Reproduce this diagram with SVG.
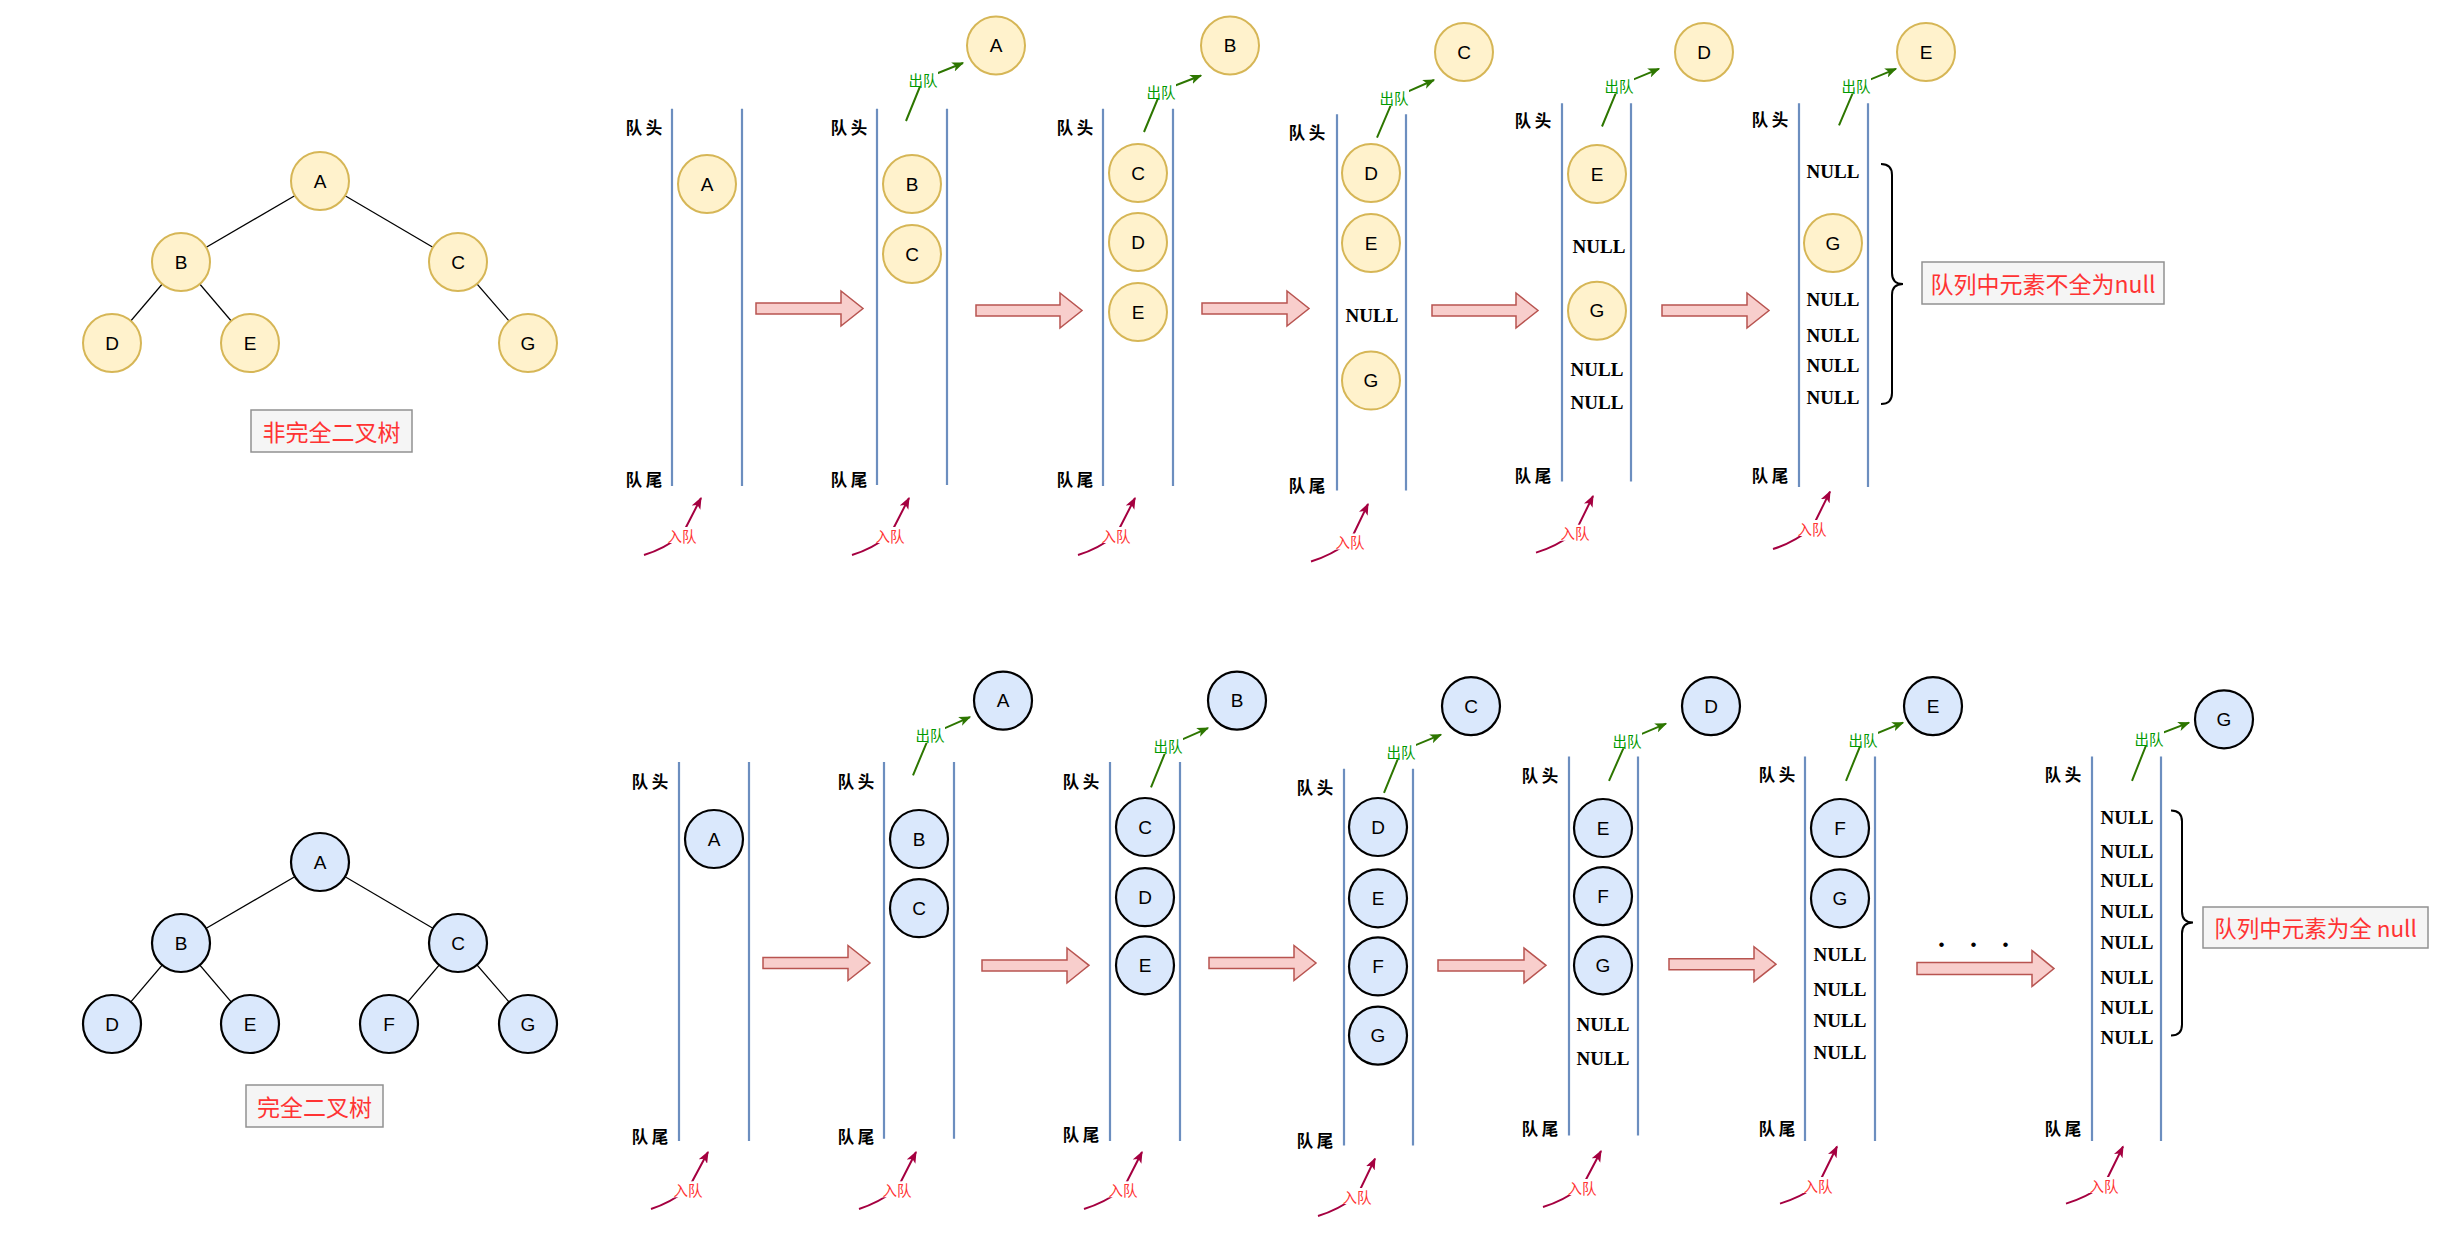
<svg xmlns="http://www.w3.org/2000/svg" width="2450" height="1234" viewBox="0 0 2450 1234">
<style>
.q{stroke:#6c8ebf;stroke-width:2.2;fill:none}
.ny{fill:#fff2cc;stroke:#d6b656;stroke-width:2}
.nb{fill:#dae8fc;stroke:#000;stroke-width:2.2}
.lt{font-family:"Liberation Sans",Arial,sans-serif;font-size:19px;text-anchor:middle;dominant-baseline:central;fill:#000}
.nl{font-family:"Liberation Serif","Times New Roman",serif;font-weight:bold;font-size:19px;text-anchor:middle;dominant-baseline:central;fill:#000}
.hd{font-family:"Noto Sans CJK SC",sans-serif;font-size:16.5px;font-weight:bold;text-anchor:middle;dominant-baseline:central;fill:#000}
.out{stroke:#2d7600;stroke-width:2;fill:none;marker-end:url(#mg)}
.in{stroke:#a50040;stroke-width:2;fill:none;marker-end:url(#mr)}
.lb{fill:#fff}
.ol{font-family:"Noto Sans CJK SC",sans-serif;font-size:14.5px;fill:#009900;text-anchor:middle;dominant-baseline:central}
.il{font-family:"Noto Sans CJK SC",sans-serif;font-size:14.5px;fill:#ff3333;text-anchor:middle;dominant-baseline:central}
.big{fill:#f8cecc;stroke:#b85450;stroke-width:1.5}
.box{fill:#f5f5f5;stroke:#919191;stroke-width:1.5}
.bt{font-family:"Noto Sans CJK SC",sans-serif;fill:#ff3333;text-anchor:middle;dominant-baseline:central}
.te{stroke:#000;stroke-width:1.2}
.br{stroke:#000;stroke-width:2;fill:none}
</style>
<defs>
<marker id="mg" viewBox="0 0 10 8" refX="9" refY="4" markerWidth="12" markerHeight="10" markerUnits="userSpaceOnUse" orient="auto"><path d="M0,0 L10,4 L0,8 L2.5,4 Z" fill="#2d7600"/></marker>
<marker id="mr" viewBox="0 0 10 8" refX="9" refY="4" markerWidth="12" markerHeight="10" markerUnits="userSpaceOnUse" orient="auto"><path d="M0,0 L10,4 L0,8 L2.5,4 Z" fill="#a50040"/></marker>
</defs>
<rect width="2450" height="1234" fill="#fff"/>

<!-- ============ connectors ============ -->
<g id="connectors">
  <!-- tree edges top -->
  <line class="te" x1="320" y1="181" x2="181" y2="262"/>
  <line class="te" x1="320" y1="181" x2="458" y2="262"/>
  <line class="te" x1="181" y1="262" x2="112" y2="343"/>
  <line class="te" x1="181" y1="262" x2="250" y2="343"/>
  <line class="te" x1="458" y1="262" x2="528" y2="343"/>
  <!-- tree edges bottom -->
  <line class="te" x1="320" y1="862" x2="181" y2="943"/>
  <line class="te" x1="320" y1="862" x2="458" y2="943"/>
  <line class="te" x1="181" y1="943" x2="112" y2="1024"/>
  <line class="te" x1="181" y1="943" x2="250" y2="1024"/>
  <line class="te" x1="458" y1="943" x2="389" y2="1024"/>
  <line class="te" x1="458" y1="943" x2="528" y2="1024"/>

  <!-- big transition arrows top -->
  <path class="big" d="M756,303 L841,303 L841,291 L863,308.5 L841,326 L841,314 L756,314 Z"/>
  <path class="big" d="M976,305 L1060,305 L1060,293 L1082,310.5 L1060,328 L1060,316 L976,316 Z"/>
  <path class="big" d="M1202,303 L1287,303 L1287,291 L1309,308.5 L1287,326 L1287,314 L1202,314 Z"/>
  <path class="big" d="M1432,305 L1516,305 L1516,293 L1538,310.5 L1516,328 L1516,316 L1432,316 Z"/>
  <path class="big" d="M1662,305 L1747,305 L1747,293 L1769,310.5 L1747,328 L1747,316 L1662,316 Z"/>
  <!-- big transition arrows bottom -->
  <path class="big" d="M763,957.5 L848,957.5 L848,945.5 L870,963 L848,980.5 L848,968.5 L763,968.5 Z"/>
  <path class="big" d="M982,960 L1067,960 L1067,948 L1089,965.3 L1067,983 L1067,971 L982,971 Z"/>
  <path class="big" d="M1209,957.5 L1294,957.5 L1294,945.5 L1316,963 L1294,980.5 L1294,968.5 L1209,968.5 Z"/>
  <path class="big" d="M1438,960 L1524,960 L1524,948 L1546,965.3 L1524,983 L1524,971 L1438,971 Z"/>
  <path class="big" d="M1669,958.7 L1754,958.7 L1754,946.7 L1776,964.2 L1754,981.7 L1754,969.7 L1669,969.7 Z"/>
  <path class="big" d="M1917,962.5 L2032,962.5 L2032,950.5 L2054,968.6 L2032,986.5 L2032,974.5 L1917,974.5 Z"/>

  <!-- dequeue arrows top -->
  <path class="out" d="M906,121 L923,79 L963,63"/>
  <path class="out" d="M1144,132 L1161,91 L1201,75.5"/>
  <path class="out" d="M1377,137.6 L1394,97.7 L1434,80"/>
  <path class="out" d="M1602,126.5 L1619,85.4 L1659,68.8"/>
  <path class="out" d="M1839,125.4 L1856,85.4 L1896,68.8"/>
  <!-- dequeue arrows bottom -->
  <path class="out" d="M913,775.3 L930,734.7 L970,717.1"/>
  <path class="out" d="M1151,787.4 L1168,745.7 L1208,728.1"/>
  <path class="out" d="M1384,792.9 L1401,751.2 L1441,734.7"/>
  <path class="out" d="M1609,780.8 L1627,740.2 L1666,723.7"/>
  <path class="out" d="M1846,780.8 L1863,739 L1903,722.6"/>
  <path class="out" d="M2132,780.8 L2149,738 L2189,722.6"/>

  <!-- enqueue arrows top -->
  <path class="in" d="M644,555 Q664,549 682,535 L701,498"/>
  <path class="in" d="M852,555 Q872,549 890,535 L909,498"/>
  <path class="in" d="M1078,555 Q1098,549 1116,535 L1135,498"/>
  <path class="in" d="M1311,561.5 Q1331,555.5 1350,541.5 L1368,504"/>
  <path class="in" d="M1536,552.6 Q1556,546.6 1575,532.7 L1593,496"/>
  <path class="in" d="M1773,549 Q1793,543 1812,528 L1830,491.6"/>
  <!-- enqueue arrows bottom -->
  <path class="in" d="M651,1209 Q670,1203 688,1189.3 L708,1152"/>
  <path class="in" d="M859,1209 Q878,1203 897,1189.3 L916,1152"/>
  <path class="in" d="M1084,1209 Q1104,1203 1123,1189.3 L1142,1152"/>
  <path class="in" d="M1318,1216 Q1338,1210 1357,1196 L1375,1158.6"/>
  <path class="in" d="M1543,1207 Q1563,1201 1582,1187 L1601,1151"/>
  <path class="in" d="M1780,1203.6 Q1800,1197.6 1818,1185 L1837,1146.5"/>
  <path class="in" d="M2066,1203.6 Q2086,1197.6 2104,1185 L2123,1146.5"/>

  <!-- braces -->
  <path class="br" d="M1881,164 Q1892,164 1892,175 L1892,273 Q1892,284 1903,284 Q1892,284 1892,295 L1892,393 Q1892,404 1881,404"/>
  <path class="br" d="M2171,810.5 Q2182,810.5 2182,821.5 L2182,911.5 Q2182,922.5 2193,922.5 Q2182,922.5 2182,933.5 L2182,1024.6 Q2182,1035.6 2171,1035.6"/>
</g>

<!-- connector labels -->
<g id="connector-labels">
  <rect class="lb" x="908" y="71" width="30" height="16"/><text class="ol" x="923" y="79">出队</text>
  <rect class="lb" x="1146" y="83" width="30" height="16"/><text class="ol" x="1161" y="91">出队</text>
  <rect class="lb" x="1379" y="89.7" width="30" height="16"/><text class="ol" x="1394" y="97.7">出队</text>
  <rect class="lb" x="1604" y="77.4" width="30" height="16"/><text class="ol" x="1619" y="85.4">出队</text>
  <rect class="lb" x="1841" y="77.4" width="30" height="16"/><text class="ol" x="1856" y="85.4">出队</text>
  <rect class="lb" x="915" y="726.7" width="30" height="16"/><text class="ol" x="930" y="734.7">出队</text>
  <rect class="lb" x="1153" y="737.7" width="30" height="16"/><text class="ol" x="1168" y="745.7">出队</text>
  <rect class="lb" x="1386" y="743.2" width="30" height="16"/><text class="ol" x="1401" y="751.2">出队</text>
  <rect class="lb" x="1612" y="732.2" width="30" height="16"/><text class="ol" x="1627" y="740.2">出队</text>
  <rect class="lb" x="1848" y="731" width="30" height="16"/><text class="ol" x="1863" y="739">出队</text>
  <rect class="lb" x="2134" y="730" width="30" height="16"/><text class="ol" x="2149" y="738">出队</text>

  <rect class="lb" x="667" y="527" width="30" height="16"/><text class="il" x="682" y="535">入队</text>
  <rect class="lb" x="875" y="527" width="30" height="16"/><text class="il" x="890" y="535">入队</text>
  <rect class="lb" x="1101" y="527" width="30" height="16"/><text class="il" x="1116" y="535">入队</text>
  <rect class="lb" x="1335" y="533.5" width="30" height="16"/><text class="il" x="1350" y="541.5">入队</text>
  <rect class="lb" x="1560" y="524.7" width="30" height="16"/><text class="il" x="1575" y="532.7">入队</text>
  <rect class="lb" x="1797" y="520" width="30" height="16"/><text class="il" x="1812" y="528">入队</text>
  <rect class="lb" x="673" y="1181.3" width="30" height="16"/><text class="il" x="688" y="1189.3">入队</text>
  <rect class="lb" x="882" y="1181.3" width="30" height="16"/><text class="il" x="897" y="1189.3">入队</text>
  <rect class="lb" x="1108" y="1181.3" width="30" height="16"/><text class="il" x="1123" y="1189.3">入队</text>
  <rect class="lb" x="1342" y="1188" width="30" height="16"/><text class="il" x="1357" y="1196">入队</text>
  <rect class="lb" x="1567" y="1179" width="30" height="16"/><text class="il" x="1582" y="1187">入队</text>
  <rect class="lb" x="1803" y="1177" width="30" height="16"/><text class="il" x="1818" y="1185">入队</text>
  <rect class="lb" x="2089" y="1177" width="30" height="16"/><text class="il" x="2104" y="1185">入队</text>
</g>

<!-- ============ top tree ============ -->
<g id="t1-A"><circle class="ny" cx="320" cy="181" r="29"/><text class="lt" x="320" y="181">A</text></g>
<g id="t1-B"><circle class="ny" cx="181" cy="262" r="29"/><text class="lt" x="181" y="262">B</text></g>
<g id="t1-C"><circle class="ny" cx="458" cy="262" r="29"/><text class="lt" x="458" y="262">C</text></g>
<g id="t1-D"><circle class="ny" cx="112" cy="343" r="29"/><text class="lt" x="112" y="343">D</text></g>
<g id="t1-E"><circle class="ny" cx="250" cy="343" r="29"/><text class="lt" x="250" y="343">E</text></g>
<g id="t1-G"><circle class="ny" cx="528" cy="343" r="29"/><text class="lt" x="528" y="343">G</text></g>
<g id="t1-label"><rect class="box" x="251" y="410" width="161" height="42"/><text class="bt" x="331.5" y="431" font-size="23">非完全二叉树</text></g>

<!-- ============ bottom tree ============ -->
<g id="t2-A"><circle class="nb" cx="320" cy="862" r="29"/><text class="lt" x="320" y="862">A</text></g>
<g id="t2-B"><circle class="nb" cx="181" cy="943" r="29"/><text class="lt" x="181" y="943">B</text></g>
<g id="t2-C"><circle class="nb" cx="458" cy="943" r="29"/><text class="lt" x="458" y="943">C</text></g>
<g id="t2-D"><circle class="nb" cx="112" cy="1024" r="29"/><text class="lt" x="112" y="1024">D</text></g>
<g id="t2-E"><circle class="nb" cx="250" cy="1024" r="29"/><text class="lt" x="250" y="1024">E</text></g>
<g id="t2-F"><circle class="nb" cx="389" cy="1024" r="29"/><text class="lt" x="389" y="1024">F</text></g>
<g id="t2-G"><circle class="nb" cx="528" cy="1024" r="29"/><text class="lt" x="528" y="1024">G</text></g>
<g id="t2-label"><rect class="box" x="246" y="1085" width="137" height="42"/><text class="bt" x="314.5" y="1106" font-size="23">完全二叉树</text></g>

<!-- ============ top queues ============ -->
<g id="tq1">
  <line class="q" x1="672" y1="108.7" x2="672" y2="486"/><line class="q" x1="742" y1="108.7" x2="742" y2="486"/>
  <text class="hd" x="644" y="126.5">队 头</text><text class="hd" x="644" y="479">队 尾</text>
</g>
<g id="tq1-A"><circle class="ny" cx="707" cy="184" r="29"/><text class="lt" x="707" y="184">A</text></g>

<g id="tq2">
  <line class="q" x1="877" y1="108.7" x2="877" y2="485"/><line class="q" x1="947" y1="108.7" x2="947" y2="485"/>
  <text class="hd" x="849" y="126.5">队 头</text><text class="hd" x="849" y="479">队 尾</text>
</g>
<g id="tq2-B"><circle class="ny" cx="912" cy="184" r="29"/><text class="lt" x="912" y="184">B</text></g>
<g id="tq2-C"><circle class="ny" cx="912" cy="254" r="29"/><text class="lt" x="912" y="254">C</text></g>
<g id="tq2-outA"><circle class="ny" cx="996" cy="45.5" r="29"/><text class="lt" x="996" y="45.5">A</text></g>

<g id="tq3">
  <line class="q" x1="1103" y1="108.7" x2="1103" y2="486"/><line class="q" x1="1173" y1="108.7" x2="1173" y2="486"/>
  <text class="hd" x="1075" y="126.5">队 头</text><text class="hd" x="1075" y="479">队 尾</text>
</g>
<g id="tq3-C"><circle class="ny" cx="1138" cy="173" r="29"/><text class="lt" x="1138" y="173">C</text></g>
<g id="tq3-D"><circle class="ny" cx="1138" cy="242" r="29"/><text class="lt" x="1138" y="242">D</text></g>
<g id="tq3-E"><circle class="ny" cx="1138" cy="312" r="29"/><text class="lt" x="1138" y="312">E</text></g>
<g id="tq3-outB"><circle class="ny" cx="1230" cy="45.5" r="29"/><text class="lt" x="1230" y="45.5">B</text></g>

<g id="tq4">
  <line class="q" x1="1337" y1="114.3" x2="1337" y2="490.5"/><line class="q" x1="1406" y1="114.3" x2="1406" y2="490.5"/>
  <text class="hd" x="1307" y="132">队 头</text><text class="hd" x="1307" y="485">队 尾</text>
  <text class="nl" x="1372" y="315">NULL</text>
</g>
<g id="tq4-D"><circle class="ny" cx="1371" cy="173" r="29"/><text class="lt" x="1371" y="173">D</text></g>
<g id="tq4-E"><circle class="ny" cx="1371" cy="243" r="29"/><text class="lt" x="1371" y="243">E</text></g>
<g id="tq4-G"><circle class="ny" cx="1371" cy="380.6" r="29"/><text class="lt" x="1371" y="380.6">G</text></g>
<g id="tq4-outC"><circle class="ny" cx="1464" cy="52" r="29"/><text class="lt" x="1464" y="52">C</text></g>

<g id="tq5">
  <line class="q" x1="1562" y1="103.2" x2="1562" y2="481.6"/><line class="q" x1="1631" y1="103.2" x2="1631" y2="481.6"/>
  <text class="hd" x="1533" y="119.8">队 头</text><text class="hd" x="1533" y="475">队 尾</text>
  <text class="nl" x="1599" y="246">NULL</text>
  <text class="nl" x="1597" y="369.5">NULL</text>
  <text class="nl" x="1597" y="402.8">NULL</text>
</g>
<g id="tq5-E"><circle class="ny" cx="1597" cy="174" r="29"/><text class="lt" x="1597" y="174">E</text></g>
<g id="tq5-G"><circle class="ny" cx="1597" cy="310.7" r="29"/><text class="lt" x="1597" y="310.7">G</text></g>
<g id="tq5-outD"><circle class="ny" cx="1704" cy="52" r="29"/><text class="lt" x="1704" y="52">D</text></g>

<g id="tq6">
  <line class="q" x1="1799" y1="103.2" x2="1799" y2="487"/><line class="q" x1="1868" y1="103.2" x2="1868" y2="487"/>
  <text class="hd" x="1770" y="118.7">队 头</text><text class="hd" x="1770" y="475">队 尾</text>
  <text class="nl" x="1833" y="171">NULL</text>
  <text class="nl" x="1833" y="299.6">NULL</text>
  <text class="nl" x="1833" y="335">NULL</text>
  <text class="nl" x="1833" y="365">NULL</text>
  <text class="nl" x="1833" y="397">NULL</text>
</g>
<g id="tq6-G"><circle class="ny" cx="1833" cy="243" r="29"/><text class="lt" x="1833" y="243">G</text></g>
<g id="tq6-outE"><circle class="ny" cx="1926" cy="52" r="29"/><text class="lt" x="1926" y="52">E</text></g>
<g id="top-note"><rect class="box" x="1922" y="262" width="242" height="42"/><text class="bt" x="2043" y="283" font-size="23">队列中元素不全为null</text></g>

<!-- ============ bottom queues ============ -->
<g id="bq1">
  <line class="q" x1="679" y1="762" x2="679" y2="1141"/><line class="q" x1="749" y1="762" x2="749" y2="1141"/>
  <text class="hd" x="650" y="780.8">队 头</text><text class="hd" x="650" y="1135.5">队 尾</text>
</g>
<g id="bq1-A"><circle class="nb" cx="714" cy="839" r="29"/><text class="lt" x="714" y="839">A</text></g>

<g id="bq2">
  <line class="q" x1="884" y1="762" x2="884" y2="1138.8"/><line class="q" x1="954" y1="762" x2="954" y2="1138.8"/>
  <text class="hd" x="856" y="780.8">队 头</text><text class="hd" x="856" y="1135.5">队 尾</text>
</g>
<g id="bq2-B"><circle class="nb" cx="919" cy="839" r="29"/><text class="lt" x="919" y="839">B</text></g>
<g id="bq2-C"><circle class="nb" cx="919" cy="908.2" r="29"/><text class="lt" x="919" y="908.2">C</text></g>
<g id="bq2-outA"><circle class="nb" cx="1003" cy="700.6" r="29"/><text class="lt" x="1003" y="700.6">A</text></g>

<g id="bq3">
  <line class="q" x1="1110" y1="762" x2="1110" y2="1141"/><line class="q" x1="1180" y1="762" x2="1180" y2="1141"/>
  <text class="hd" x="1081" y="780.8">队 头</text><text class="hd" x="1081" y="1134.4">队 尾</text>
</g>
<g id="bq3-C"><circle class="nb" cx="1145" cy="827" r="29"/><text class="lt" x="1145" y="827">C</text></g>
<g id="bq3-D"><circle class="nb" cx="1145" cy="897.2" r="29"/><text class="lt" x="1145" y="897.2">D</text></g>
<g id="bq3-E"><circle class="nb" cx="1145" cy="965.3" r="29"/><text class="lt" x="1145" y="965.3">E</text></g>
<g id="bq3-outB"><circle class="nb" cx="1237" cy="700.6" r="29"/><text class="lt" x="1237" y="700.6">B</text></g>

<g id="bq4">
  <line class="q" x1="1344" y1="768.7" x2="1344" y2="1145.4"/><line class="q" x1="1413" y1="768.7" x2="1413" y2="1145.4"/>
  <text class="hd" x="1315" y="787.4">队 头</text><text class="hd" x="1315" y="1140">队 尾</text>
</g>
<g id="bq4-D"><circle class="nb" cx="1378" cy="827" r="29"/><text class="lt" x="1378" y="827">D</text></g>
<g id="bq4-E"><circle class="nb" cx="1378" cy="898.3" r="29"/><text class="lt" x="1378" y="898.3">E</text></g>
<g id="bq4-F"><circle class="nb" cx="1378" cy="966.4" r="29"/><text class="lt" x="1378" y="966.4">F</text></g>
<g id="bq4-G"><circle class="nb" cx="1378" cy="1035.6" r="29"/><text class="lt" x="1378" y="1035.6">G</text></g>
<g id="bq4-outC"><circle class="nb" cx="1471" cy="706.1" r="29"/><text class="lt" x="1471" y="706.1">C</text></g>

<g id="bq5">
  <line class="q" x1="1569" y1="756.6" x2="1569" y2="1135.5"/><line class="q" x1="1638" y1="756.6" x2="1638" y2="1135.5"/>
  <text class="hd" x="1540" y="775.3">队 头</text><text class="hd" x="1540" y="1127.8">队 尾</text>
  <text class="nl" x="1603" y="1024.6">NULL</text>
  <text class="nl" x="1603" y="1058.6">NULL</text>
</g>
<g id="bq5-E"><circle class="nb" cx="1603" cy="828" r="29"/><text class="lt" x="1603" y="828">E</text></g>
<g id="bq5-F"><circle class="nb" cx="1603" cy="896.1" r="29"/><text class="lt" x="1603" y="896.1">F</text></g>
<g id="bq5-G"><circle class="nb" cx="1603" cy="965.3" r="29"/><text class="lt" x="1603" y="965.3">G</text></g>
<g id="bq5-outD"><circle class="nb" cx="1711" cy="706.1" r="29"/><text class="lt" x="1711" y="706.1">D</text></g>

<g id="bq6">
  <line class="q" x1="1805" y1="756.6" x2="1805" y2="1141"/><line class="q" x1="1875" y1="756.6" x2="1875" y2="1141"/>
  <text class="hd" x="1777" y="774.2">队 头</text><text class="hd" x="1777" y="1127.8">队 尾</text>
  <text class="nl" x="1840" y="954.3">NULL</text>
  <text class="nl" x="1840" y="989.5">NULL</text>
  <text class="nl" x="1840" y="1020.2">NULL</text>
  <text class="nl" x="1840" y="1052">NULL</text>
</g>
<g id="bq6-F"><circle class="nb" cx="1840" cy="828" r="29"/><text class="lt" x="1840" y="828">F</text></g>
<g id="bq6-G"><circle class="nb" cx="1840" cy="898.3" r="29"/><text class="lt" x="1840" y="898.3">G</text></g>
<g id="bq6-outE"><circle class="nb" cx="1933" cy="706.1" r="29"/><text class="lt" x="1933" y="706.1">E</text></g>

<g id="ellipsis"><text x="1938" y="947" font-family="Liberation Serif, serif" font-weight="bold" font-size="28" letter-spacing="25">...</text></g>

<g id="bq7">
  <line class="q" x1="2092" y1="756.6" x2="2092" y2="1141"/><line class="q" x1="2161" y1="756.6" x2="2161" y2="1141"/>
  <text class="hd" x="2063" y="774.2">队 头</text><text class="hd" x="2063" y="1127.8">队 尾</text>
  <text class="nl" x="2127" y="817">NULL</text>
  <text class="nl" x="2127" y="851">NULL</text>
  <text class="nl" x="2127" y="880.7">NULL</text>
  <text class="nl" x="2127" y="911.5">NULL</text>
  <text class="nl" x="2127" y="942.2">NULL</text>
  <text class="nl" x="2127" y="977.4">NULL</text>
  <text class="nl" x="2127" y="1007">NULL</text>
  <text class="nl" x="2127" y="1037.8">NULL</text>
</g>
<g id="bq7-outG"><circle class="nb" cx="2224" cy="719.3" r="29"/><text class="lt" x="2224" y="719.3">G</text></g>
<g id="bottom-note"><rect class="box" x="2203" y="907" width="225" height="41"/><text class="bt" x="2315.5" y="927.3" font-size="22.5">队列中元素为全 null</text></g>
</svg>
